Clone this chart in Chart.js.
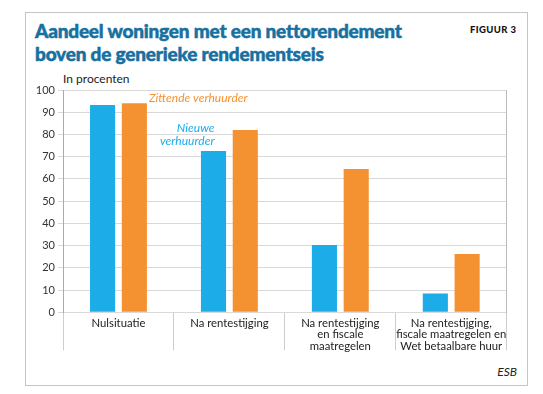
<!DOCTYPE html>
<html>
<head>
<meta charset="utf-8">
<script src="https://cdn.jsdelivr.net/npm/chart.js@4.4.1/dist/chart.umd.min.js"></script>
<style>
body { margin: 0; background: #fff; width: 543px; height: 394px; position: relative; overflow: hidden; font-family: Lato, sans-serif; }
#frame { position: absolute; left: 25px; top: 12px; width: 501px; height: 372px; border: 1px solid #c4c4c4; }
#title { position: absolute; left: 35px; top: 18.5px; font-size: 19px; line-height: 23.5px; font-weight: 900; letter-spacing: -0.2px; color: #17709f; -webkit-text-stroke: 0.5px #17709f; white-space: nowrap; }
#fig { position: absolute; left: 470px; top: 24px; font-size: 9.5px; line-height: 12px; font-weight: 900; letter-spacing: 0.4px; color: #111; }
#unit { position: absolute; left: 63px; top: 73px; font-size: 12px; line-height: 12px; color: #222; }
#src { position: absolute; right: 26px; top: 366px; font-size: 12px; line-height: 12px; font-style: italic; color: #222; }
canvas { position: absolute; left: 0; top: 0; }
</style>
</head>
<body>
<div id="frame"></div>
<div id="title">Aandeel woningen met een nettorendement<br>boven de generieke rendementseis</div>
<div id="fig">FIGUUR 3</div>
<div id="unit">In procenten</div>
<div id="src">ESB</div>
<canvas id="chart" width="543" height="394"></canvas>
<script>
// categorieen (meerregelig zoals in de figuur)
var categories = [
    ['Nulsituatie'],
    ['Na rentestijging'],
    ['Na rentestijging', 'en fiscale', 'maatregelen'],
    ['Na rentestijging,', 'fiscale maatregelen en', 'Wet betaalbare huur']
];
var nieuweVerhuurder = [93.2, 72.6, 30.3, 8.5];
var zittendeVerhuurder = [94.0, 82.0, 64.5, 26.2];
var yMin = 0, yMax = 100, yStep = 10;

var blue = '#1cade8';
var orange = '#f49231';

// labels bij de staven
var annotate = {
    id: 'annotate',
    afterDatasetsDraw: function(chart) {
        var ctx = chart.ctx;
        var z = chart.getDatasetMeta(1).data[0];
        var n = chart.getDatasetMeta(0).data[1];
        ctx.save();
        ctx.font = 'italic 12px Lato';
        ctx.textBaseline = 'middle';
        ctx.fillStyle = orange;
        ctx.textAlign = 'left';
        ctx.fillText('Zittende verhuurder', z.x + z.width / 2 + 2, z.y - 5);
        ctx.fillStyle = blue;
        ctx.textAlign = 'right';
        ctx.fillText('Nieuwe', n.x + 1, n.y - 23);
        ctx.fillText('verhuurder', n.x + 1, n.y - 10);
        ctx.restore();
    }
};

var ctx = document.getElementById('chart').getContext('2d');
var chart = new Chart(ctx, {
    type: 'bar',
    data: {
        labels: categories,
        datasets: [{
            label: 'Nieuwe verhuurder',
            data: nieuweVerhuurder,
            backgroundColor: blue,
            categoryPercentage: 0.573,
            barPercentage: 0.79
        }, {
            label: 'Zittende verhuurder',
            data: zittendeVerhuurder,
            backgroundColor: orange,
            categoryPercentage: 0.573,
            barPercentage: 0.79
        }]
    },
    options: {
        responsive: false,
        animation: false,
        layout: { padding: { left: 23, right: 36.3, top: 90, bottom: 41.7 } },
        plugins: { legend: { display: false }, tooltip: { enabled: false } },
        scales: {
            x: {
                offset: true,
                grid: { offset: true, drawOnChartArea: false, tickLength: 38, color: '#cdcdcd' },
                border: { display: false },
                ticks: {
                    padding: -33.2,
                    maxRotation: 0,
                    autoSkip: false,
                    color: '#222',
                    font: { family: 'Lato', size: 11.3, lineHeight: 1.04 }
                },
                afterFit: function(s) { s.height = 40; }
            },
            y: {
                min: yMin,
                max: yMax,
                grid: { color: '#d9d9d9', tickLength: 5 },
                border: { color: '#aaa' },
                ticks: {
                    stepSize: yStep,
                    padding: 3,
                    color: '#333',
                    font: { family: 'Lato', size: 11 }
                },
                afterFit: function(s) { s.width = 40; }
            },
            y2: {
                position: 'right',
                min: yMin,
                max: yMax,
                grid: { drawOnChartArea: false, drawTicks: false },
                border: { color: '#bbb' },
                ticks: { display: false },
                afterFit: function(s) { s.width = 0; }
            }
        }
    },
    plugins: [annotate]
});
</script>
</body>
</html>
